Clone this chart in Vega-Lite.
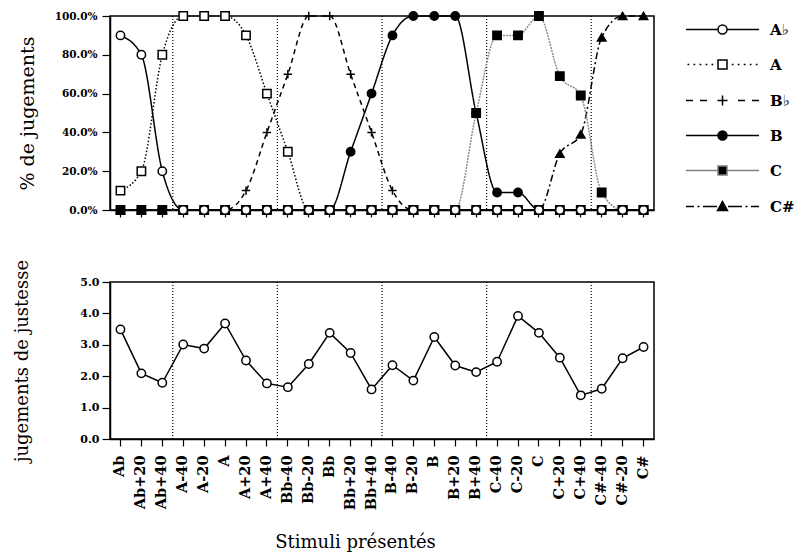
{
"$schema": "https://vega.github.io/schema/vega-lite/v6.json",
"background": "white",
"padding": {"left": 13, "top": 8, "right": 0, "bottom": 4},
"bounds": "flush",
"spacing": 72,
"config": {
 "view": {"stroke": "black", "strokeWidth": 1.5},
 "axis": {"domainColor": "black", "domainWidth": 1.5, "tickColor": "black", "tickWidth": 1.2, "grid": false, "labelFont": "DejaVu Serif", "labelFontWeight": "bold", "labelColor": "black", "titleFont": "DejaVu Serif", "titleFontWeight": "normal", "titleColor": "black", "labelOverlap": false, "labelFlush": false, "labelBound": false}
},
"datasets": {
 "sep": [{"stim": "Ab+40"}, {"stim": "A+40"}, {"stim": "Bb+40"}, {"stim": "B+40"}, {"stim": "C+40"}],
 "note": [
  {"stim": "Ab", "note": 3.49}, {"stim": "Ab+20", "note": 2.09}, {"stim": "Ab+40", "note": 1.79}, {"stim": "A-40", "note": 3.01}, {"stim": "A-20", "note": 2.88}, {"stim": "A", "note": 3.68}, {"stim": "A+20", "note": 2.5}, {"stim": "A+40", "note": 1.77}, {"stim": "Bb-40", "note": 1.65}, {"stim": "Bb-20", "note": 2.39}, {"stim": "Bb", "note": 3.38}, {"stim": "Bb+20", "note": 2.74}, {"stim": "Bb+40", "note": 1.58}, {"stim": "B-40", "note": 2.35}, {"stim": "B-20", "note": 1.86}, {"stim": "B", "note": 3.25}, {"stim": "B+20", "note": 2.34}, {"stim": "B+40", "note": 2.13}, {"stim": "C-40", "note": 2.46}, {"stim": "C-20", "note": 3.92}, {"stim": "C", "note": 3.38}, {"stim": "C+20", "note": 2.59}, {"stim": "C+40", "note": 1.39}, {"stim": "C#-40", "note": 1.6}, {"stim": "C#-20", "note": 2.57}, {"stim": "C#", "note": 2.93}
 ],
 "pct": [
  {"stim": "Ab", "serie": "C#", "pct": 0}, {"stim": "Ab+20", "serie": "C#", "pct": 0}, {"stim": "Ab+40", "serie": "C#", "pct": 0}, {"stim": "A-40", "serie": "C#", "pct": 0}, {"stim": "A-20", "serie": "C#", "pct": 0}, {"stim": "A", "serie": "C#", "pct": 0}, {"stim": "A+20", "serie": "C#", "pct": 0}, {"stim": "A+40", "serie": "C#", "pct": 0}, {"stim": "Bb-40", "serie": "C#", "pct": 0}, {"stim": "Bb-20", "serie": "C#", "pct": 0}, {"stim": "Bb", "serie": "C#", "pct": 0}, {"stim": "Bb+20", "serie": "C#", "pct": 0}, {"stim": "Bb+40", "serie": "C#", "pct": 0}, {"stim": "B-40", "serie": "C#", "pct": 0}, {"stim": "B-20", "serie": "C#", "pct": 0}, {"stim": "B", "serie": "C#", "pct": 0}, {"stim": "B+20", "serie": "C#", "pct": 0}, {"stim": "B+40", "serie": "C#", "pct": 0}, {"stim": "C-40", "serie": "C#", "pct": 0}, {"stim": "C-20", "serie": "C#", "pct": 0}, {"stim": "C", "serie": "C#", "pct": 0}, {"stim": "C+20", "serie": "C#", "pct": 0.29}, {"stim": "C+40", "serie": "C#", "pct": 0.39}, {"stim": "C#-40", "serie": "C#", "pct": 0.89}, {"stim": "C#-20", "serie": "C#", "pct": 1}, {"stim": "C#", "serie": "C#", "pct": 1},
  {"stim": "Ab", "serie": "C", "pct": 0}, {"stim": "Ab+20", "serie": "C", "pct": 0}, {"stim": "Ab+40", "serie": "C", "pct": 0}, {"stim": "A-40", "serie": "C", "pct": 0}, {"stim": "A-20", "serie": "C", "pct": 0}, {"stim": "A", "serie": "C", "pct": 0}, {"stim": "A+20", "serie": "C", "pct": 0}, {"stim": "A+40", "serie": "C", "pct": 0}, {"stim": "Bb-40", "serie": "C", "pct": 0}, {"stim": "Bb-20", "serie": "C", "pct": 0}, {"stim": "Bb", "serie": "C", "pct": 0}, {"stim": "Bb+20", "serie": "C", "pct": 0}, {"stim": "Bb+40", "serie": "C", "pct": 0}, {"stim": "B-40", "serie": "C", "pct": 0}, {"stim": "B-20", "serie": "C", "pct": 0}, {"stim": "B", "serie": "C", "pct": 0}, {"stim": "B+20", "serie": "C", "pct": 0}, {"stim": "B+40", "serie": "C", "pct": 0.5}, {"stim": "C-40", "serie": "C", "pct": 0.9}, {"stim": "C-20", "serie": "C", "pct": 0.9}, {"stim": "C", "serie": "C", "pct": 1}, {"stim": "C+20", "serie": "C", "pct": 0.69}, {"stim": "C+40", "serie": "C", "pct": 0.59}, {"stim": "C#-40", "serie": "C", "pct": 0.09}, {"stim": "C#-20", "serie": "C", "pct": 0}, {"stim": "C#", "serie": "C", "pct": 0},
  {"stim": "Ab", "serie": "B♭", "pct": 0}, {"stim": "Ab+20", "serie": "B♭", "pct": 0}, {"stim": "Ab+40", "serie": "B♭", "pct": 0}, {"stim": "A-40", "serie": "B♭", "pct": 0}, {"stim": "A-20", "serie": "B♭", "pct": 0}, {"stim": "A", "serie": "B♭", "pct": 0}, {"stim": "A+20", "serie": "B♭", "pct": 0.1}, {"stim": "A+40", "serie": "B♭", "pct": 0.4}, {"stim": "Bb-40", "serie": "B♭", "pct": 0.7}, {"stim": "Bb-20", "serie": "B♭", "pct": 1}, {"stim": "Bb", "serie": "B♭", "pct": 1}, {"stim": "Bb+20", "serie": "B♭", "pct": 0.7}, {"stim": "Bb+40", "serie": "B♭", "pct": 0.4}, {"stim": "B-40", "serie": "B♭", "pct": 0.1}, {"stim": "B-20", "serie": "B♭", "pct": 0}, {"stim": "B", "serie": "B♭", "pct": 0}, {"stim": "B+20", "serie": "B♭", "pct": 0}, {"stim": "B+40", "serie": "B♭", "pct": 0}, {"stim": "C-40", "serie": "B♭", "pct": 0}, {"stim": "C-20", "serie": "B♭", "pct": 0}, {"stim": "C", "serie": "B♭", "pct": 0}, {"stim": "C+20", "serie": "B♭", "pct": 0}, {"stim": "C+40", "serie": "B♭", "pct": 0}, {"stim": "C#-40", "serie": "B♭", "pct": 0}, {"stim": "C#-20", "serie": "B♭", "pct": 0}, {"stim": "C#", "serie": "B♭", "pct": 0},
  {"stim": "Ab", "serie": "A", "pct": 0.1}, {"stim": "Ab+20", "serie": "A", "pct": 0.2}, {"stim": "Ab+40", "serie": "A", "pct": 0.8}, {"stim": "A-40", "serie": "A", "pct": 1}, {"stim": "A-20", "serie": "A", "pct": 1}, {"stim": "A", "serie": "A", "pct": 1}, {"stim": "A+20", "serie": "A", "pct": 0.9}, {"stim": "A+40", "serie": "A", "pct": 0.6}, {"stim": "Bb-40", "serie": "A", "pct": 0.3}, {"stim": "Bb-20", "serie": "A", "pct": 0}, {"stim": "Bb", "serie": "A", "pct": 0}, {"stim": "Bb+20", "serie": "A", "pct": 0}, {"stim": "Bb+40", "serie": "A", "pct": 0}, {"stim": "B-40", "serie": "A", "pct": 0}, {"stim": "B-20", "serie": "A", "pct": 0}, {"stim": "B", "serie": "A", "pct": 0}, {"stim": "B+20", "serie": "A", "pct": 0}, {"stim": "B+40", "serie": "A", "pct": 0}, {"stim": "C-40", "serie": "A", "pct": 0}, {"stim": "C-20", "serie": "A", "pct": 0}, {"stim": "C", "serie": "A", "pct": 0}, {"stim": "C+20", "serie": "A", "pct": 0}, {"stim": "C+40", "serie": "A", "pct": 0}, {"stim": "C#-40", "serie": "A", "pct": 0}, {"stim": "C#-20", "serie": "A", "pct": 0}, {"stim": "C#", "serie": "A", "pct": 0},
  {"stim": "Ab", "serie": "B", "pct": 0}, {"stim": "Ab+20", "serie": "B", "pct": 0}, {"stim": "Ab+40", "serie": "B", "pct": 0}, {"stim": "A-40", "serie": "B", "pct": 0}, {"stim": "A-20", "serie": "B", "pct": 0}, {"stim": "A", "serie": "B", "pct": 0}, {"stim": "A+20", "serie": "B", "pct": 0}, {"stim": "A+40", "serie": "B", "pct": 0}, {"stim": "Bb-40", "serie": "B", "pct": 0}, {"stim": "Bb-20", "serie": "B", "pct": 0}, {"stim": "Bb", "serie": "B", "pct": 0}, {"stim": "Bb+20", "serie": "B", "pct": 0.3}, {"stim": "Bb+40", "serie": "B", "pct": 0.6}, {"stim": "B-40", "serie": "B", "pct": 0.9}, {"stim": "B-20", "serie": "B", "pct": 1}, {"stim": "B", "serie": "B", "pct": 1}, {"stim": "B+20", "serie": "B", "pct": 1}, {"stim": "B+40", "serie": "B", "pct": 0.5}, {"stim": "C-40", "serie": "B", "pct": 0.09}, {"stim": "C-20", "serie": "B", "pct": 0.09}, {"stim": "C", "serie": "B", "pct": 0}, {"stim": "C+20", "serie": "B", "pct": 0}, {"stim": "C+40", "serie": "B", "pct": 0}, {"stim": "C#-40", "serie": "B", "pct": 0}, {"stim": "C#-20", "serie": "B", "pct": 0}, {"stim": "C#", "serie": "B", "pct": 0},
  {"stim": "Ab", "serie": "A♭", "pct": 0.9}, {"stim": "Ab+20", "serie": "A♭", "pct": 0.8}, {"stim": "Ab+40", "serie": "A♭", "pct": 0.2}, {"stim": "A-40", "serie": "A♭", "pct": 0}, {"stim": "A-20", "serie": "A♭", "pct": 0}, {"stim": "A", "serie": "A♭", "pct": 0}, {"stim": "A+20", "serie": "A♭", "pct": 0}, {"stim": "A+40", "serie": "A♭", "pct": 0}, {"stim": "Bb-40", "serie": "A♭", "pct": 0}, {"stim": "Bb-20", "serie": "A♭", "pct": 0}, {"stim": "Bb", "serie": "A♭", "pct": 0}, {"stim": "Bb+20", "serie": "A♭", "pct": 0}, {"stim": "Bb+40", "serie": "A♭", "pct": 0}, {"stim": "B-40", "serie": "A♭", "pct": 0}, {"stim": "B-20", "serie": "A♭", "pct": 0}, {"stim": "B", "serie": "A♭", "pct": 0}, {"stim": "B+20", "serie": "A♭", "pct": 0}, {"stim": "B+40", "serie": "A♭", "pct": 0}, {"stim": "C-40", "serie": "A♭", "pct": 0}, {"stim": "C-20", "serie": "A♭", "pct": 0}, {"stim": "C", "serie": "A♭", "pct": 0}, {"stim": "C+20", "serie": "A♭", "pct": 0}, {"stim": "C+40", "serie": "A♭", "pct": 0}, {"stim": "C#-40", "serie": "A♭", "pct": 0}, {"stim": "C#-20", "serie": "A♭", "pct": 0}, {"stim": "C#", "serie": "A♭", "pct": 0}
 ]
},
"vconcat": [
 {
  "width": 544, "height": 194,
  "layer": [
   {"data": {"name": "sep"}, "mark": {"type": "rule", "stroke": "black", "strokeDash": [1, 2], "strokeWidth": 1.2},
    "encoding": {"x": {"field": "stim", "type": "nominal", "bandPosition": 1, "scale": {"type": "band", "paddingInner": 0, "paddingOuter": 0, "domain": ["Ab","Ab+20","Ab+40","A-40","A-20","A","A+20","A+40","Bb-40","Bb-20","Bb","Bb+20","Bb+40","B-40","B-20","B","B+20","B+40","C-40","C-20","C","C+20","C+40","C#-40","C#-20","C#"]}, "axis": {"labels": false, "title": null, "tickSize": 7, "ticks": true}}}},
   {"data": {"name": "pct"}, "mark": {"type": "line", "interpolate": "monotone", "strokeWidth": 1.5},
    "encoding": {
     "x": {"field": "stim", "type": "nominal", "scale": {"type": "band", "paddingInner": 0, "paddingOuter": 0, "domain": ["Ab","Ab+20","Ab+40","A-40","A-20","A","A+20","A+40","Bb-40","Bb-20","Bb","Bb+20","Bb+40","B-40","B-20","B","B+20","B+40","C-40","C-20","C","C+20","C+40","C#-40","C#-20","C#"]}, "axis": {"labels": false, "title": null, "tickSize": 7, "ticks": true}},
     "y": {"field": "pct", "type": "quantitative", "scale": {"domain": [0, 1], "nice": false}, "axis": {"values": [0, 0.2, 0.4, 0.6, 0.8, 1], "format": ".1%", "title": "% de jugements", "tickSize": 8, "labelPadding": 5, "labelFontSize": 10.5, "titleFontSize": 19, "titlePadding": 17, "labelOverlap": false, "labelFlush": false, "labelBound": false}},
     "stroke": {"field": "serie", "type": "nominal", "scale": {"domain": ["A♭","A","B♭","B","C","C#"], "range": ["black","black","black","black","#8c8c8c","black"]}, "legend": null},
     "strokeDash": {"field": "serie", "type": "nominal", "scale": {"domain": ["A♭","A","B♭","B","C","C#"], "range": [[1,0],[1.5,2],[5,4],[1,0],[2,1],[7,3,2,3]]}, "legend": null}
    }},
   {"data": {"name": "pct"}, "mark": {"type": "point", "opacity": 1, "strokeWidth": 1.5, "stroke": "black", "size": 70},
    "encoding": {
     "x": {"field": "stim", "type": "nominal"},
     "y": {"field": "pct", "type": "quantitative", "axis": {"values": [0, 0.2, 0.4, 0.6, 0.8, 1], "format": ".1%", "title": "% de jugements", "tickSize": 8, "labelPadding": 5, "labelFontSize": 10.5, "titleFontSize": 19, "titlePadding": 17, "labelOverlap": false, "labelFlush": false, "labelBound": false}},
     "shape": {"field": "serie", "type": "nominal", "scale": {"domain": ["A♭","A","B♭","B","C","C#"], "range": ["circle","square","M-1,0H1M0,-1V1","circle","square","triangle-up"]}, "legend": null},
     "fill": {"field": "serie", "type": "nominal", "scale": {"domain": ["A♭","A","B♭","B","C","C#"], "range": ["white","white","white","black","black","black"]}, "legend": null}
    }},
   {"data": {"name": "pct"}, "transform": [{"filter": "false"}], "mark": {"type": "point", "opacity": 1, "strokeWidth": 1.5, "size": 100},
    "encoding": {
     "shape": {"field": "serie", "type": "nominal", "scale": {"domain": ["A♭","A","B♭","B","C","C#"], "range": [
       "M-7.3,0H-0.9M0.9,0H7.3M0.9,0A0.9,0.9,0,1,1,-0.9,0A0.9,0.9,0,1,1,0.9,0Z",
       "M-7,0h0.35M-5.8,0h0.35M-4.6,0h0.35M-3.4,0h0.35M-2.2,0h0.35M1.85,0h0.35M3.05,0h0.35M4.25,0h0.35M5.45,0h0.35M6.65,0h0.35M-0.9,-0.9H0.9V0.9H-0.9Z",
       "M-7.3,0H-5.9M-4.5,0H-3.1M-1,0H1M0,-1V1M3.1,0H4.5M5.9,0H7.3",
       "M-7.3,0H-0.9M0.9,0H7.3M0.9,0A0.9,0.9,0,1,1,-0.9,0A0.9,0.9,0,1,1,0.9,0Z",
       "M-7.3,0H-0.9M0.9,0H7.3M-0.9,-0.9H0.9V0.9H-0.9Z",
       "M-7.3,0H-5.7M-5,0H-4.6M-3.9,0H-1.1M0,-1L1,0.8H-1ZM1.1,0H3.9M4.6,0H5M5.7,0H7.3"]},
      "legend": {"orient": "none", "legendX": 605, "legendY": 6, "title": null, "symbolSize": 100, "symbolStrokeWidth": 1.5, "labelFont": "DejaVu Serif", "labelFontSize": 15, "labelFontWeight": "bold", "labelColor": "black", "labelOffset": 40, "rowPadding": 19}},
     "fill": {"field": "serie", "type": "nominal", "scale": {"domain": ["A♭","A","B♭","B","C","C#"], "range": ["white","white","white","black","black","black"]},
      "legend": {"orient": "none", "legendX": 605, "legendY": 6, "title": null, "symbolSize": 100, "symbolStrokeWidth": 1.5, "labelFont": "DejaVu Serif", "labelFontSize": 15, "labelFontWeight": "bold", "labelColor": "black", "labelOffset": 40, "rowPadding": 19}},
     "stroke": {"field": "serie", "type": "nominal", "scale": {"domain": ["A♭","A","B♭","B","C","C#"], "range": ["black","black","black","black","#808080","black"]},
      "legend": {"orient": "none", "legendX": 605, "legendY": 6, "title": null, "symbolSize": 100, "symbolStrokeWidth": 1.5, "labelFont": "DejaVu Serif", "labelFontSize": 15, "labelFontWeight": "bold", "labelColor": "black", "labelOffset": 40, "rowPadding": 19}}
    }}
  ],
  "resolve": {"scale": {"shape": "independent", "fill": "independent", "stroke": "independent", "strokeDash": "independent"}}
 },
 {
  "width": 544, "height": 157,
  "layer": [
   {"data": {"name": "sep"}, "mark": {"type": "rule", "stroke": "black", "strokeDash": [1, 2], "strokeWidth": 1.2},
    "encoding": {"x": {"field": "stim", "type": "nominal", "bandPosition": 1, "scale": {"type": "band", "paddingInner": 0, "paddingOuter": 0, "domain": ["Ab","Ab+20","Ab+40","A-40","A-20","A","A+20","A+40","Bb-40","Bb-20","Bb","Bb+20","Bb+40","B-40","B-20","B","B+20","B+40","C-40","C-20","C","C+20","C+40","C#-40","C#-20","C#"]}, "axis": {"labelAngle": -90, "labelFontSize": 14.5, "tickSize": 7, "labelPadding": 9, "title": "Stimuli présentés", "titleFontSize": 18, "titleX": 245, "titlePadding": 24}}}},
   {"data": {"name": "note"}, "mark": {"type": "line", "stroke": "black", "strokeWidth": 1.5},
    "encoding": {
     "x": {"field": "stim", "type": "nominal", "scale": {"type": "band", "paddingInner": 0, "paddingOuter": 0, "domain": ["Ab","Ab+20","Ab+40","A-40","A-20","A","A+20","A+40","Bb-40","Bb-20","Bb","Bb+20","Bb+40","B-40","B-20","B","B+20","B+40","C-40","C-20","C","C+20","C+40","C#-40","C#-20","C#"]}, "axis": {"labelAngle": -90, "labelFontSize": 14.5, "tickSize": 7, "labelPadding": 9, "title": "Stimuli présentés", "titleFontSize": 18, "titleX": 245, "titlePadding": 24}},
     "y": {"field": "note", "type": "quantitative", "scale": {"domain": [0, 5], "nice": false}, "axis": {"values": [0, 1, 2, 3, 4, 5], "format": ".1f", "title": "jugements de justesse", "tickSize": 8, "labelPadding": 3, "labelFontSize": 11, "titleFontSize": 18, "titlePadding": 48, "labelOverlap": false, "labelFlush": false, "labelBound": false}}
    }},
   {"data": {"name": "note"}, "mark": {"type": "point", "shape": "circle", "size": 70, "fill": "white", "stroke": "black", "strokeWidth": 1.5, "opacity": 1},
    "encoding": {"x": {"field": "stim", "type": "nominal"}, "y": {"field": "note", "type": "quantitative", "axis": {"values": [0, 1, 2, 3, 4, 5], "format": ".1f", "title": "jugements de justesse", "tickSize": 8, "labelPadding": 3, "labelFontSize": 11, "titleFontSize": 18, "titlePadding": 48, "labelOverlap": false, "labelFlush": false, "labelBound": false}}}}
  ]
 }
]
}
